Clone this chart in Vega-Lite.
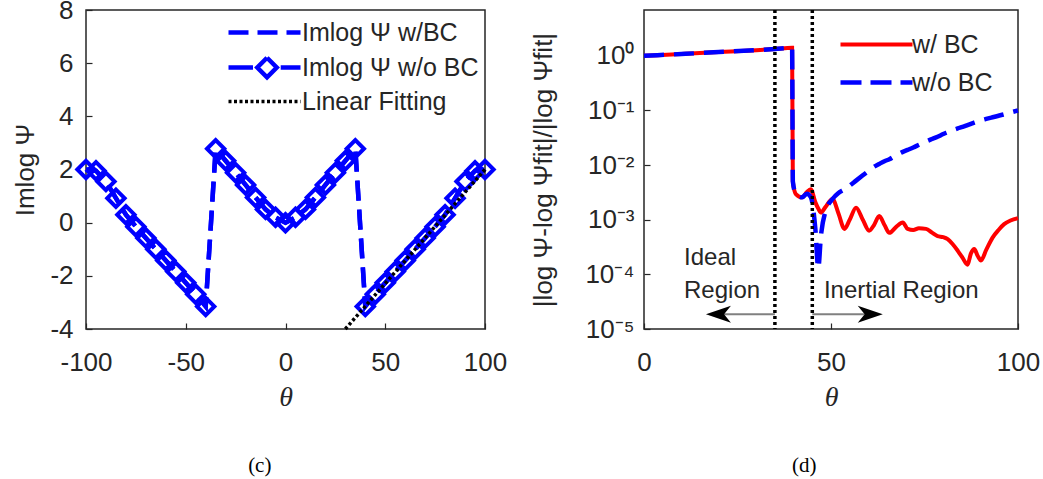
{
  "$schema": "https://vega.github.io/schema/vega-lite/v6.json",
  "background": "white",
  "padding": {"left": 12, "top": -4, "right": 5, "bottom": 0},
  "spacing": 22,
  "datasets": {
    "imlog": [
      {"theta": -100, "wbc": 2.0, "wobc": 2.0},
      {"theta": -95, "wbc": 1.95, "wobc": 1.95},
      {"theta": -90, "wbc": 1.55, "wobc": 1.55},
      {"theta": -85, "wbc": 0.92, "wobc": 0.92},
      {"theta": -80, "wbc": 0.3, "wobc": 0.3},
      {"theta": -75, "wbc": -0.15, "wobc": -0.15},
      {"theta": -70, "wbc": -0.58, "wobc": -0.58},
      {"theta": -65, "wbc": -1.0, "wobc": -1.0},
      {"theta": -60, "wbc": -1.42, "wobc": -1.42},
      {"theta": -55, "wbc": -1.84, "wobc": -1.84},
      {"theta": -50, "wbc": -2.26, "wobc": -2.26},
      {"theta": -45, "wbc": -2.69, "wobc": -2.69},
      {"theta": -40, "wbc": -3.15, "wobc": -3.15},
      {"theta": -35, "wbc": 2.78, "wobc": 2.78},
      {"theta": -30, "wbc": 2.33, "wobc": 2.33},
      {"theta": -25, "wbc": 1.88, "wobc": 1.88},
      {"theta": -20, "wbc": 1.42, "wobc": 1.42},
      {"theta": -15, "wbc": 0.95, "wobc": 0.95},
      {"theta": -10, "wbc": 0.5, "wobc": 0.5},
      {"theta": -5, "wbc": 0.2, "wobc": 0.2},
      {"theta": 0, "wbc": 0.0, "wobc": 0.0},
      {"theta": 5, "wbc": 0.2, "wobc": 0.2},
      {"theta": 10, "wbc": 0.5, "wobc": 0.5},
      {"theta": 15, "wbc": 0.95, "wobc": 0.95},
      {"theta": 20, "wbc": 1.42, "wobc": 1.42},
      {"theta": 25, "wbc": 1.88, "wobc": 1.88},
      {"theta": 30, "wbc": 2.33, "wobc": 2.33},
      {"theta": 35, "wbc": 2.78, "wobc": 2.78},
      {"theta": 40, "wbc": -3.15, "wobc": -3.15},
      {"theta": 45, "wbc": -2.69, "wobc": -2.69},
      {"theta": 50, "wbc": -2.26, "wobc": -2.26},
      {"theta": 55, "wbc": -1.84, "wobc": -1.84},
      {"theta": 60, "wbc": -1.42, "wobc": -1.42},
      {"theta": 65, "wbc": -1.0, "wobc": -1.0},
      {"theta": 70, "wbc": -0.58, "wobc": -0.58},
      {"theta": 75, "wbc": -0.15, "wobc": -0.15},
      {"theta": 80, "wbc": 0.3, "wobc": 0.3},
      {"theta": 85, "wbc": 0.92, "wobc": 0.92},
      {"theta": 90, "wbc": 1.55, "wobc": 1.55},
      {"theta": 95, "wbc": 1.95, "wobc": 1.95},
      {"theta": 100, "wbc": 2.0, "wobc": 2.0}
    ],
    "fit": [
      {"theta": 30, "fit": -4},
      {"theta": 100, "fit": 2}
    ],
    "err": [
      {"theta": 0, "wbc": 1.0, "wobc": 1.0},
      {"theta": 10, "wbc": 1.08, "wobc": 1.08},
      {"theta": 20, "wbc": 1.17, "wobc": 1.17},
      {"theta": 30, "wbc": 1.27, "wobc": 1.27},
      {"theta": 35, "wbc": 1.33, "wobc": 1.33},
      {"theta": 39.6, "wbc": 1.4, "wobc": 1.4},
      {"theta": 39.8, "wbc": 0.005, "wobc": 0.005},
      {"theta": 40.6, "wbc": 0.00295, "wobc": 0.00295},
      {"theta": 42.3, "wbc": 0.00257, "wobc": 0.00257},
      {"theta": 43.5, "wbc": 0.0032, "wobc": 0.003},
      {"theta": 44.6, "wbc": 0.00363, "wobc": 0.0026},
      {"theta": 45.8, "wbc": 0.0021, "wobc": 0.0007},
      {"theta": 46.6, "wbc": 0.0016, "wobc": 0.00013},
      {"theta": 47.3, "wbc": 0.00135, "wobc": 0.0005},
      {"theta": 48.5, "wbc": 0.0017, "wobc": 0.0014},
      {"theta": 50.4, "wbc": 0.0024, "wobc": 0.0024},
      {"theta": 52, "wbc": 0.0013, "wobc": 0.0031},
      {"theta": 53.6, "wbc": 0.00068, "wobc": 0.0036},
      {"theta": 55, "wbc": 0.001, "wobc": 0.0042},
      {"theta": 56.7, "wbc": 0.00166, "wobc": 0.0052},
      {"theta": 58.5, "wbc": 0.001, "wobc": 0.0065},
      {"theta": 60.2, "wbc": 0.00063, "wobc": 0.008},
      {"theta": 61.5, "wbc": 0.0008, "wobc": 0.0093},
      {"theta": 62.9, "wbc": 0.00117, "wobc": 0.0105},
      {"theta": 64.3, "wbc": 0.0008, "wobc": 0.0118},
      {"theta": 65.6, "wbc": 0.000575, "wobc": 0.0128},
      {"theta": 67.5, "wbc": 0.00075, "wobc": 0.0153},
      {"theta": 69.2, "wbc": 0.00089, "wobc": 0.0175},
      {"theta": 70.5, "wbc": 0.00068, "wobc": 0.019},
      {"theta": 72, "wbc": 0.00065, "wobc": 0.021},
      {"theta": 73.5, "wbc": 0.0007, "wobc": 0.0235},
      {"theta": 75.4, "wbc": 0.00068, "wobc": 0.027},
      {"theta": 77, "wbc": 0.00058, "wobc": 0.03},
      {"theta": 78.5, "wbc": 0.0005, "wobc": 0.033},
      {"theta": 80, "wbc": 0.00048, "wobc": 0.037},
      {"theta": 81.2, "wbc": 0.00044, "wobc": 0.04},
      {"theta": 82.5, "wbc": 0.00036, "wobc": 0.0435},
      {"theta": 83.9, "wbc": 0.00027, "wobc": 0.047},
      {"theta": 85.2, "wbc": 0.0002, "wobc": 0.05},
      {"theta": 86.5, "wbc": 0.00015, "wobc": 0.054},
      {"theta": 87.4, "wbc": 0.00024, "wobc": 0.057},
      {"theta": 88.3, "wbc": 0.00029, "wobc": 0.06},
      {"theta": 89.2, "wbc": 0.00022, "wobc": 0.063},
      {"theta": 90.1, "wbc": 0.00018, "wobc": 0.066},
      {"theta": 91.5, "wbc": 0.00028, "wobc": 0.07},
      {"theta": 93.2, "wbc": 0.00047, "wobc": 0.075},
      {"theta": 94.8, "wbc": 0.00065, "wobc": 0.08},
      {"theta": 96.3, "wbc": 0.00083, "wobc": 0.085},
      {"theta": 98, "wbc": 0.00097, "wobc": 0.092},
      {"theta": 100, "wbc": 0.00107, "wobc": 0.1}
    ],
    "vlines": [{"theta": 35}, {"theta": 45}],
    "shafts": [
      {"from": 35, "to": 21, "y": 0.0000186},
      {"from": 45, "to": 59, "y": 0.0000186}
    ],
    "heads": [
      {"theta": 19.9, "y": 0.0000186, "dir": "left"},
      {"theta": 60.5, "y": 0.0000186, "dir": "right"}
    ],
    "notes": [
      {"theta": 10.7, "y": 0.0002, "text": "Ideal"},
      {"theta": 10.7, "y": 0.00005, "text": "Region"},
      {"theta": 48.1, "y": 0.00005, "text": "Inertial Region"}
    ]
  },
  "resolve": {"scale": {"x": "independent", "y": "independent", "color": "independent", "shape": "independent"}, "legend": {"color": "independent"}},
  "hconcat": [
    {
      "width": 399,
      "height": 319,
      "title": {"text": "(c)", "orient": "bottom", "font": "Liberation Serif", "fontSize": 21, "fontWeight": "normal", "color": "#000000", "offset": 44, "frame": "bounds", "anchor": "middle"},
      "layer": [
        {
          "data": {"name": "imlog"},
          "mark": {"type": "line", "strokeDash": [20, 9], "strokeWidth": 4.5},
          "encoding": {
            "x": {"field": "theta", "type": "quantitative", "scale": {"domain": [-100, 100], "nice": false},
              "axis": {"title": "θ", "values": [-100, -50, 0, 50, 100], "labelExpr": "datum.value < 0 ? '-' + abs(datum.value) : '' + datum.value"}},
            "y": {"field": "wbc", "type": "quantitative", "scale": {"domain": [-4, 8], "nice": false},
              "axis": {"title": "Imlog Ψ", "titlePadding": 11, "values": [-4, -2, 0, 2, 4, 6, 8], "labelExpr": "datum.value < 0 ? '-' + abs(datum.value) : '' + datum.value"}},
            "color": {
              "datum": "Imlog Ψ w/BC",
              "type": "nominal",
              "scale": {"domain": ["Imlog Ψ w/BC", "Imlog Ψ w/o BC", "Linear Fitting"], "range": ["#0000ff", "#0000ff", "#000000"]},
              "legend": {
                "title": null,
                "orient": "none",
                "legendX": 166,
                "legendY": 10,
                "symbolType": "stroke",
                "symbolSize": 5184,
                "symbolStrokeWidth": 4,
                "labelFont": "Liberation Sans",
                "labelFontSize": 25,
                "labelColor": "#262626",
                "labelOffset": 25,
                "labelLimit": 400,
                "rowPadding": 2,
                "padding": 0,
                "encoding": {
                  "symbols": {
                    "shape": {"value": {"expr": "datum.value === 'Imlog Ψ w/o BC' ? 'M-1,0L-0.32,0M0.45,0L1,0M0.07,-0.27L0.34,0L0.07,0.27L-0.2,0Z' : 'M-1,0L1,0'"}},
                    "strokeDash": {"value": {"expr": "datum.value === 'Linear Fitting' ? [3, 2.5] : datum.value === 'Imlog Ψ w/BC' ? [20, 9] : [1000, 0]"}},
                    "strokeWidth": {"value": {"expr": "datum.value === 'Linear Fitting' ? 3.5 : 4.5"}},
                    "fill": {"value": "transparent"}
                  }
                }
              }
            }
          }
        },
        {
          "data": {"name": "imlog"},
          "mark": {"type": "line", "strokeDash": [20, 9], "strokeWidth": 4.5, "color": "#0000ff"},
          "encoding": {
            "x": {"field": "theta", "type": "quantitative"},
            "y": {"field": "wobc", "type": "quantitative"}
          }
        },
        {
          "data": {"name": "imlog"},
          "mark": {"type": "point", "shape": "diamond", "filled": false, "size": 300, "strokeWidth": 4, "color": "#0000ff", "opacity": 1},
          "encoding": {
            "x": {"field": "theta", "type": "quantitative"},
            "y": {"field": "wobc", "type": "quantitative"}
          }
        },
        {
          "data": {"name": "fit"},
          "mark": {"type": "line", "strokeDash": [3, 2.5], "strokeWidth": 3.5, "color": "#000000"},
          "encoding": {
            "x": {"field": "theta", "type": "quantitative"},
            "y": {"field": "fit", "type": "quantitative"}
          }
        }
      ]
    },
    {
      "width": 374,
      "height": 319,
      "title": {"text": "(d)", "orient": "bottom", "font": "Liberation Serif", "fontSize": 21, "fontWeight": "normal", "color": "#000000", "offset": 44, "dx": 19, "frame": "bounds", "anchor": "middle"},
      "layer": [
        {
          "data": {"name": "err"},
          "mark": {"type": "line", "strokeWidth": 4, "interpolate": "monotone"},
          "encoding": {
            "x": {"field": "theta", "type": "quantitative", "scale": {"domain": [0, 100], "nice": false},
              "axis": {"title": "θ", "values": [0, 50, 100]}},
            "y": {"field": "wbc", "type": "quantitative", "scale": {"type": "log", "domain": [0.00001, 6.9], "nice": false},
              "axis": {"title": "|log Ψ-log Ψfit|/|log Ψfit|", "values": [0.00001, 0.0001, 0.001, 0.01, 0.1, 1], "labelPadding": 16, "titlePadding": 28,
                "labelExpr": "['10⁰','10⁻¹','10⁻²','10⁻³','10⁻⁴','10⁻⁵'][-round(log(datum.value)/LN10)]"}},
            "color": {
              "datum": "w/ BC",
              "type": "nominal",
              "scale": {"domain": ["w/ BC", "w/o BC"], "range": ["#ff0000", "#0000ff"]},
              "legend": {
                "title": null,
                "orient": "none",
                "legendX": 220,
                "legendY": 22,
                "symbolType": "stroke",
                "symbolSize": 5184,
                "symbolStrokeWidth": 4.5,
                "labelFont": "Liberation Sans",
                "labelFontSize": 25,
                "labelColor": "#262626",
                "labelOffset": 23,
                "labelLimit": 400,
                "rowPadding": 12,
                "padding": 0,
                "encoding": {
                  "symbols": {
                    "shape": {"value": {"expr": "'M-1,0L1,0'"}},
                    "strokeDash": {"value": {"expr": "datum.value === 'w/o BC' ? [21, 9] : [1000, 0]"}},
                    "strokeWidth": {"value": {"expr": "datum.value === 'w/o BC' ? 4.5 : 4"}},
                    "fill": {"value": "transparent"}
                  }
                }
              }
            }
          }
        },
        {
          "data": {"name": "err"},
          "mark": {"type": "line", "strokeWidth": 4.5, "strokeDash": [20, 10], "color": "#0000ff", "interpolate": "monotone"},
          "encoding": {
            "x": {"field": "theta", "type": "quantitative"},
            "y": {"field": "wobc", "type": "quantitative"}
          }
        },
        {
          "data": {"name": "vlines"},
          "mark": {"type": "rule", "strokeDash": [3, 3], "strokeWidth": 3.5, "color": "#000000"},
          "encoding": {
            "x": {"field": "theta", "type": "quantitative"}
          }
        },
        {
          "data": {"name": "shafts"},
          "mark": {"type": "rule", "strokeWidth": 2, "color": "#808080"},
          "encoding": {
            "x": {"field": "from", "type": "quantitative"},
            "x2": {"field": "to"},
            "y": {"field": "y", "type": "quantitative"}
          }
        },
        {
          "data": {"name": "heads"},
          "mark": {"type": "point", "filled": true, "size": 625, "color": "#000000", "opacity": 1},
          "encoding": {
            "x": {"field": "theta", "type": "quantitative"},
            "y": {"field": "y", "type": "quantitative"},
            "shape": {"field": "dir", "type": "nominal", "legend": null,
              "scale": {"domain": ["left", "right"], "range": ["M-1,0L1,-0.68L0.45,0L1,0.68Z", "M1,0L-1,-0.68L-0.45,0L-1,0.68Z"]}}
          }
        },
        {
          "data": {"name": "notes"},
          "mark": {"type": "text", "align": "left", "baseline": "middle", "font": "Liberation Sans", "fontSize": 24, "color": "#262626"},
          "encoding": {
            "x": {"field": "theta", "type": "quantitative"},
            "y": {"field": "y", "type": "quantitative"},
            "text": {"field": "text"}
          }
        }
      ]
    }
  ],
  "config": {
    "view": {"stroke": "#262626", "strokeWidth": 1.5},
    "axis": {
      "grid": false,
      "domain": false,
      "tickColor": "#262626",
      "tickSize": -6,
      "tickWidth": 1.2,
      "labelColor": "#262626",
      "labelFont": "Liberation Sans",
      "labelFontSize": 26,
      "labelFlush": false,
      "labelOverlap": false,
      "titleColor": "#262626",
      "titleFont": "Liberation Sans",
      "titleFontSize": 26,
      "titleFontWeight": "normal"
    },
    "axisX": {"labelPadding": 26, "titleFont": "Liberation Serif", "titleFontStyle": "italic", "titleFontSize": 28, "titlePadding": 8},
    "axisY": {"labelPadding": 19, "titlePadding": 6}
  }
}
